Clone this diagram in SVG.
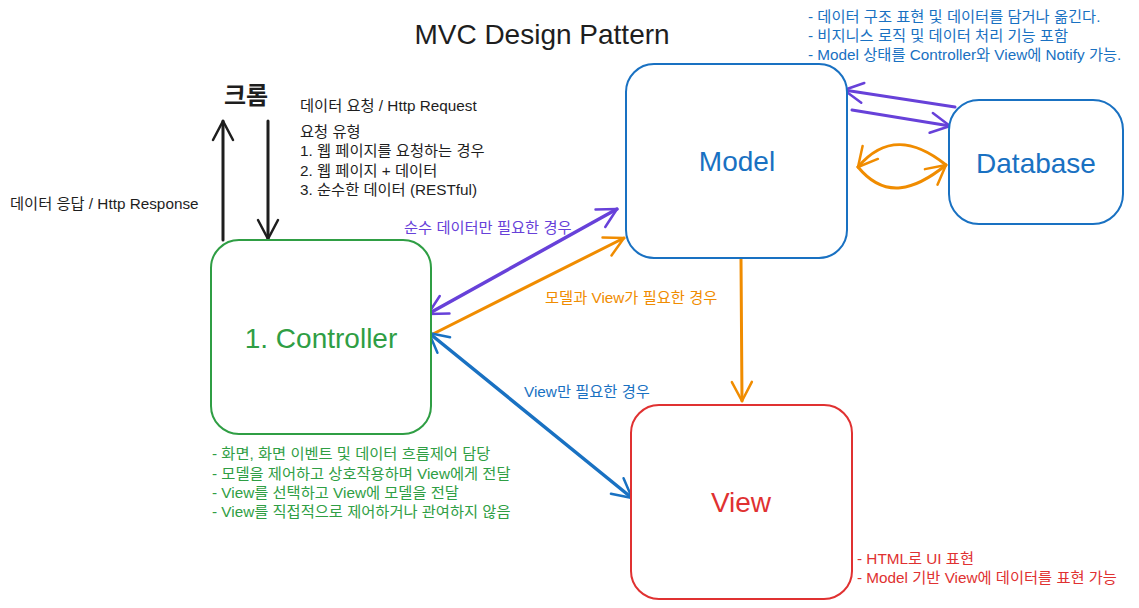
<svg xmlns="http://www.w3.org/2000/svg" width="1139" height="608" viewBox="0 0 1139 608">
<defs>
<style>
text{font-family:"Liberation Sans","Noto Sans CJK KR",Arial,sans-serif}
.box{fill:#fff;stroke-width:2}
.big{font-size:28px;text-anchor:middle;dominant-baseline:central}
.note{font-size:15.3px}
.ln{fill:none;stroke-linecap:round}
</style>
<marker id="mk" viewBox="-22 -13 26 26" markerWidth="26" markerHeight="26" refX="0" refY="0" orient="auto-start-reverse" markerUnits="userSpaceOnUse"><path d="M-19,-10 L0,0 L-19,10" fill="none" stroke="#1e1e1e" stroke-width="2.5" stroke-linecap="round" stroke-linejoin="round"/></marker>
<marker id="mp" viewBox="-22 -13 26 26" markerWidth="26" markerHeight="26" refX="0" refY="0" orient="auto-start-reverse" markerUnits="userSpaceOnUse"><path d="M-19,-10 L0,0 L-19,10" fill="none" stroke="#6741d9" stroke-width="2.5" stroke-linecap="round" stroke-linejoin="round"/></marker>
<marker id="mo" viewBox="-22 -13 26 26" markerWidth="26" markerHeight="26" refX="0" refY="0" orient="auto-start-reverse" markerUnits="userSpaceOnUse"><path d="M-19,-10 L0,0 L-19,10" fill="none" stroke="#f08c00" stroke-width="2.5" stroke-linecap="round" stroke-linejoin="round"/></marker>
<marker id="mb" viewBox="-22 -13 26 26" markerWidth="26" markerHeight="26" refX="0" refY="0" orient="auto-start-reverse" markerUnits="userSpaceOnUse"><path d="M-19,-10 L0,0 L-19,10" fill="none" stroke="#1971c2" stroke-width="2.5" stroke-linecap="round" stroke-linejoin="round"/></marker>
</defs>
<rect width="1139" height="608" fill="#fff"/>
<text x="542" y="34" font-size="28" text-anchor="middle" dominant-baseline="central" fill="#1e1e1e">MVC Design Pattern</text>

<g id="connectors">
<path class="ln" d="M223,240 L223,121" stroke="#1e1e1e" stroke-width="3" marker-end="url(#mk)"/>
<path class="ln" d="M268,121 L268,239" stroke="#1e1e1e" stroke-width="3" marker-end="url(#mk)"/>
<path class="ln" d="M428,314 L617,209" stroke="#6741d9" stroke-width="3.5" marker-start="url(#mp)" marker-end="url(#mp)"/>
<path class="ln" d="M431,335 L624,238" stroke="#f08c00" stroke-width="3" marker-end="url(#mo)"/>
<path class="ln" d="M429,333 L632,498" stroke="#1971c2" stroke-width="3.5" marker-start="url(#mb)" marker-end="url(#mb)"/>
<path class="ln" d="M741,259 L742,401" stroke="#f08c00" stroke-width="3" marker-end="url(#mo)"/>
<path class="ln" d="M955,107 L844,90" stroke="#6741d9" stroke-width="3" marker-end="url(#mp)"/>
<path class="ln" d="M852,110 L950,126" stroke="#6741d9" stroke-width="3" marker-end="url(#mp)"/>
<path class="ln" d="M946,165 C915,140 885,135 858,167" stroke="#f08c00" stroke-width="3" marker-end="url(#mo)"/>
<path class="ln" d="M858,167 C885,200 915,190 946,165" stroke="#f08c00" stroke-width="3" marker-end="url(#mo)"/>
</g>

<g id="controller">
<rect class="box" x="211" y="240" width="220" height="194" rx="28" stroke="#2f9e44"/>
<text class="big" x="321" y="338" fill="#2f9e44">1. Controller</text>
</g>
<g id="model">
<rect class="box" x="626" y="64" width="221" height="194" rx="28" stroke="#1971c2"/>
<text class="big" x="737" y="161" fill="#1971c2">Model</text>
</g>
<g id="view">
<rect class="box" x="631" y="405" width="221" height="194" rx="28" stroke="#e03131"/>
<text class="big" x="741" y="502" fill="#e03131">View</text>
</g>
<g id="database">
<rect class="box" x="949" y="100" width="174" height="124" rx="30" stroke="#1971c2"/>
<text class="big" x="1036" y="163" fill="#1971c2">Database</text>
</g>

<g id="chrome">
<text x="246" y="95" font-size="24" text-anchor="middle" dominant-baseline="central" fill="#1e1e1e" font-weight="bold">크롬</text>
</g>

<g id="labels" class="note">
<text x="300" y="111" fill="#1e1e1e">데이터 요청 / Http Request</text>
<text x="300" y="137" fill="#1e1e1e">요청 유형</text>
<text x="300" y="156" fill="#1e1e1e">1. 웹 페이지를 요청하는 경우</text>
<text x="300" y="176" fill="#1e1e1e">2. 웹 페이지 + 데이터</text>
<text x="300" y="195" fill="#1e1e1e">3. 순수한 데이터 (RESTful)</text>
<text x="10" y="209" fill="#1e1e1e">데이터 응답 / Http Response</text>

<text x="808" y="22" fill="#1971c2">- 데이터 구조 표현 및 데이터를 담거나 옮긴다.</text>
<text x="808" y="41" fill="#1971c2">- 비지니스 로직 및 데이터 처리 기능 포함</text>
<text x="808" y="60" fill="#1971c2">- Model 상태를 Controller와 View에 Notify 가능.</text>

<text x="404" y="233" fill="#6741d9">순수 데이터만 필요한 경우</text>
<text x="545" y="303" fill="#f08c00">모델과 View가 필요한 경우</text>
<text x="524" y="397" fill="#1971c2">View만 필요한 경우</text>

<text x="212" y="459" fill="#2f9e44">- 화면, 화면 이벤트 및 데이터 흐름제어 담당</text>
<text x="212" y="479" fill="#2f9e44">- 모델을 제어하고 상호작용하며 View에게 전달</text>
<text x="212" y="498" fill="#2f9e44">- View를 선택하고 View에 모델을 전달</text>
<text x="212" y="517" fill="#2f9e44">- View를 직접적으로 제어하거나 관여하지 않음</text>

<text x="857" y="564" fill="#e03131">- HTML로 UI 표현</text>
<text x="857" y="583" fill="#e03131">- Model 기반 View에 데이터를 표현 가능</text>
</g>
</svg>
